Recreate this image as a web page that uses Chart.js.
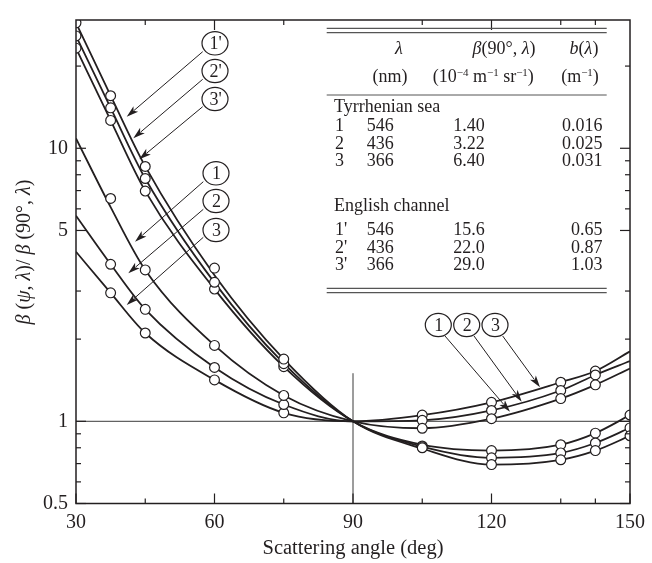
<!DOCTYPE html>
<html><head><meta charset="utf-8">
<script src="https://cdn.jsdelivr.net/npm/chart.js@4.4.0/dist/chart.umd.min.js"></script>
<style>html,body{margin:0;padding:0;background:#fff;}</style>
</head><body>
<canvas id="c" width="652" height="563"></canvas>
<script>
// ---------------- DATA ----------------
const ANGLES = [30, 37.5, 45, 60, 75, 90, 105, 120, 135, 142.5, 150];
// fitted curves
const CURVE_1P = [28.8, 15.58, 8.58, 3.43, 1.69, 1, 0.795, 0.694, 0.723, 0.781, 0.885];
const CURVE_2P = [25.8, 14.06, 7.75, 3.22, 1.63, 1, 0.808, 0.735, 0.766, 0.833, 0.946];
const CURVE_3P = [23.27, 12.65, 6.97, 3.05, 1.585, 1, 0.821, 0.781, 0.821, 0.905, 1.054];
const CURVE_1 = [10.87, 6.09, 3.585, 1.897, 1.244, 1, 0.943, 1.022, 1.211, 1.36, 1.561];
const CURVE_2 = [5.66, 3.76, 2.571, 1.575, 1.152, 1, 1.008, 1.096, 1.297, 1.478, 1.661];
const CURVE_3 = [4.18, 2.954, 2.106, 1.418, 1.074, 1, 1.054, 1.174, 1.39, 1.528, 1.804];
// measured points (null = no measurement)
const MEAS_1P = [28.8, 15.58, 8.58, 3.64, 1.69, null, 0.800, 0.694, 0.723, 0.781, 0.885];
const MEAS_2P = [25.8, 14.06, 7.75, 3.23, 1.626, null, 0.806, 0.735, 0.766, 0.833, 0.946];
const MEAS_3P = [23.27, 12.65, 6.97, 3.05, 1.585, null, 0.812, 0.781, 0.821, 0.905, 1.054];
const MEAS_1 = [null, 6.55, 3.585, 1.897, 1.244, null, 0.943, 1.022, 1.211, 1.36, null];
const MEAS_2 = [null, 3.76, 2.571, 1.575, 1.152, null, 1.008, 1.096, 1.297, 1.478, null];
const MEAS_3 = [null, 2.954, 2.106, 1.418, 1.074, null, 1.054, 1.174, 1.39, 1.528, null];
// reference lines
const REF_H_X = [30, 150], REF_H_Y = [1, 1];
const REF_V_X = [90, 90], REF_V_Y = [0.5, 1.5];
// ticks
const X_MAJOR = [30, 60, 90, 120, 150];
const X_MAJOR_TOP = [60, 120];
const X_MINOR = [45, 75, 105, 135, 142.5];
const Y_MAJOR = [0.5, 1, 5, 10];
const Y_MINOR = [0.6, 0.7, 0.8, 0.9, 2, 3, 6, 7, 8, 9, 20];
// table
const T_SERIES = ['1', '2', '3', "1'", "2'", "3'"];
const T_LAMBDA = ['546', '436', '366', '546', '436', '366'];
const T_BETA90 = ['1.40', '3.22', '6.40', '15.6', '22.0', '29.0'];
const T_B = ['0.016', '0.025', '0.031', '0.65', '0.87', '1.03'];
const T_GROUPS = ['Tyrrhenian sea', 'English channel'];

// ---------------- STYLE / LAYOUT ----------------
const SERIF = '"Liberation Serif", "DejaVu Serif", serif';
const INK = '#231f20';
const ROW_Y = [125, 143, 160.5, 229.5, 247, 264.5];
const GROUP_Y = [106.5, 205];
const CALLOUTS = [
  {t: "1'", cx: 215, cy: 43.3, from: [202.7, 51.7], to: [126.7, 116.7]},
  {t: "2'", cx: 215, cy: 71, from: [202.7, 79.3], to: [133.3, 138.3]},
  {t: "3'", cx: 215, cy: 99, from: [202.7, 106.7], to: [139.3, 159.3]},
  {t: "1", cx: 216, cy: 173.3, from: [203.3, 181.7], to: [135, 241.7]},
  {t: "2", cx: 216, cy: 201, from: [203.3, 209.3], to: [128.3, 273.3]},
  {t: "3", cx: 216, cy: 230, from: [203.3, 237.3], to: [126.7, 305]},
  {t: "1", cx: 438.3, cy: 325, from: [445, 336], to: [510, 411.7]},
  {t: "2", cx: 466.7, cy: 325, from: [474, 336], to: [521.7, 401.7]},
  {t: "3", cx: 495, cy: 325, from: [502.7, 336], to: [540, 387.3]}
];

function pts(vals) {
  return ANGLES.map((a, i) => vals[i] == null ? null : {x: a, y: vals[i]}).filter(p => p);
}
function xy(xs, ys) { return xs.map((v, i) => ({x: v, y: ys[i]})); }

const curveStyle = {type: 'line', borderColor: INK, borderWidth: 1.8, pointRadius: 0,
  cubicInterpolationMode: 'monotone', fill: false, order: 1};
const markStyle = {type: 'scatter', pointRadius: 4.9, pointBackgroundColor: '#fff',
  pointBorderColor: INK, pointBorderWidth: 1.2, showLine: false, order: 0};
const refStyle = {type: 'line', borderColor: '#3a3a3a', borderWidth: 1, pointRadius: 0, order: 2};

const datasets = [
  ...[MEAS_1P, MEAS_2P, MEAS_3P, MEAS_1, MEAS_2, MEAS_3].map(v => Object.assign({data: pts(v)}, markStyle)),
  ...[CURVE_1P, CURVE_2P, CURVE_3P, CURVE_1, CURVE_2, CURVE_3].map(v => Object.assign({data: pts(v)}, curveStyle)),
  Object.assign({data: xy(REF_H_X, REF_H_Y)}, refStyle),
  Object.assign({data: xy(REF_V_X, REF_V_Y)}, refStyle)
];

function fontFor(s, size) {
  if (s === 'i') return `italic ${size}px ${SERIF}`;
  if (s === 's') return `${Math.round(size * 0.62)}px ${SERIF}`;
  return `${size}px ${SERIF}`;
}
function richWidth(ctx, parts, size) {
  let w = 0;
  parts.forEach(([t, s]) => { ctx.font = fontFor(s, size); w += ctx.measureText(t).width; });
  return w;
}
function drawRich(ctx, parts, x, y, align, size) {
  const w = richWidth(ctx, parts, size);
  let cx = align === 'center' ? x - w / 2 : align === 'right' ? x - w : x;
  ctx.textAlign = 'left';
  ctx.textBaseline = 'alphabetic';
  const base = y + size * 0.33;
  parts.forEach(([t, s]) => {
    ctx.font = fontFor(s, size);
    ctx.fillText(t, cx, s === 's' ? base - size * 0.38 : base);
    cx += ctx.measureText(t).width;
  });
}

const deco = {
  id: 'deco',
  afterDatasetsDraw(chart) {
    const {ctx, chartArea: a, scales: {x, y}} = chart;
    ctx.save();
    ctx.strokeStyle = INK; ctx.fillStyle = INK;
    ctx.lineWidth = 1.5;
    ctx.strokeRect(a.left, a.top, a.right - a.left, a.bottom - a.top);
    ctx.lineWidth = 1.2;
    const seg = (x1, y1, x2, y2) => { ctx.beginPath(); ctx.moveTo(x1, y1); ctx.lineTo(x2, y2); ctx.stroke(); };
    const xb = (vals, len) => vals.forEach(v => { const p = x.getPixelForValue(v); seg(p, a.bottom, p, a.bottom - len); });
    const xtp = (vals, len) => vals.forEach(v => { const p = x.getPixelForValue(v); seg(p, a.top, p, a.top + len); });
    const yt = (vals, len) => vals.forEach(v => { const p = y.getPixelForValue(v); seg(a.left, p, a.left + len, p); seg(a.right, p, a.right - len, p); });
    xb(X_MAJOR, 10); xb(X_MINOR, 5); xtp(X_MAJOR_TOP, 10); xtp(X_MINOR, 5);
    yt(Y_MAJOR, 10); yt(Y_MINOR, 5);

    // y-axis title (rotated)
    ctx.save();
    ctx.translate(23, 252);
    ctx.rotate(-Math.PI / 2);
    drawRich(ctx, [['β', 'i'], [' (', 'n'], ['ψ', 'i'], [', ', 'n'], ['λ', 'i'], [')/ ', 'n'], ['β', 'i'], [' (90°, ', 'n'], ['λ', 'i'], [')', 'n']], 0, 0, 'center', 20);
    ctx.restore();

    // table
    const TS = 18;
    const L0 = 326.7, L1 = 606.7;
    ctx.strokeStyle = '#555';
    ctx.lineWidth = 1.3;
    [28.3, 32.6, 288.3, 292.6].forEach(v => seg(L0, v, L1, v));
    ctx.lineWidth = 1;
    seg(L0, 95, L1, 95);
    ctx.fillStyle = INK;
    drawRich(ctx, [['λ', 'i']], 399, 48.3, 'center', TS);
    drawRich(ctx, [['β', 'i'], ['(90°, ', 'n'], ['λ', 'i'], [')', 'n']], 504, 48.3, 'center', TS);
    drawRich(ctx, [['b', 'i'], ['(', 'n'], ['λ', 'i'], [')', 'n']], 584, 48.3, 'center', TS);
    drawRich(ctx, [['(nm)', 'n']], 390, 76.5, 'center', TS);
    drawRich(ctx, [['(10', 'n'], ['−4', 's'], [' m', 'n'], ['−1', 's'], [' sr', 'n'], ['−1', 's'], [')', 'n']], 483.3, 76.5, 'center', TS);
    drawRich(ctx, [['(m', 'n'], ['−1', 's'], [')', 'n']], 580, 76.5, 'center', TS);
    T_GROUPS.forEach((g, i) => drawRich(ctx, [[g, 'n']], 334, GROUP_Y[i], 'left', TS));
    T_SERIES.forEach((s, i) => {
      const yy = ROW_Y[i];
      drawRich(ctx, [[s, 'n']], 335, yy, 'left', TS);
      drawRich(ctx, [[T_LAMBDA[i], 'n']], 366.7, yy, 'left', TS);
      drawRich(ctx, [[T_BETA90[i], 'n']], 469, yy, 'center', TS);
      drawRich(ctx, [[T_B[i], 'n']], 602.5, yy, 'right', TS);
    });

    // callouts
    ctx.strokeStyle = INK; ctx.fillStyle = INK;
    CALLOUTS.forEach(c => {
      const [x1, y1] = c.from, [x2, y2] = c.to;
      const ang = Math.atan2(y2 - y1, x2 - x1);
      const hl = 12, hw = 3.6;
      ctx.lineWidth = 1;
      seg(x1, y1, x2 - Math.cos(ang) * hl * 0.8, y2 - Math.sin(ang) * hl * 0.8);
      ctx.beginPath();
      ctx.moveTo(x2, y2);
      ctx.lineTo(x2 - Math.cos(ang) * hl - Math.sin(ang) * hw, y2 - Math.sin(ang) * hl + Math.cos(ang) * hw);
      ctx.lineTo(x2 - Math.cos(ang) * hl * 0.75, y2 - Math.sin(ang) * hl * 0.75);
      ctx.lineTo(x2 - Math.cos(ang) * hl + Math.sin(ang) * hw, y2 - Math.sin(ang) * hl - Math.cos(ang) * hw);
      ctx.closePath(); ctx.fill();
      ctx.beginPath();
      ctx.ellipse(c.cx, c.cy, 13, 11.7, 0, 0, Math.PI * 2);
      ctx.fillStyle = '#fff'; ctx.fill();
      ctx.lineWidth = 1.2; ctx.stroke();
      ctx.fillStyle = INK;
      drawRich(ctx, [[c.t, 'n']], c.cx + 0.5, c.cy, 'center', 18);
    });
    ctx.restore();
  }
};

new Chart(document.getElementById('c'), {
  type: 'scatter',
  data: {datasets},
  options: {
    responsive: false,
    animation: false,
    devicePixelRatio: 1,
    layout: {padding: {top: 13, right: 18.6, left: 0, bottom: 0}},
    plugins: {legend: {display: false}, tooltip: {enabled: false}},
    scales: {
      x: {
        type: 'linear', min: 30, max: 150,
        afterBuildTicks: s => { s.ticks = X_MAJOR.map(v => ({value: v})); },
        afterFit: s => { s.height = 59.5; },
        grid: {display: false, drawTicks: false},
        border: {display: false},
        ticks: {font: {family: SERIF, size: 20}, color: INK, padding: 7, maxRotation: 0, autoSkip: false, callback: v => String(v)},
        title: {display: true, text: 'Scattering angle (deg)', font: {family: SERIF, size: 20.5}, color: INK, padding: {top: 0, bottom: 2}}
      },
      y: {
        type: 'logarithmic', min: 0.5, max: 29.5,
        afterBuildTicks: s => { s.ticks = Y_MAJOR.map(v => ({value: v})); },
        afterFit: s => { s.width = 76; },
        grid: {display: false, drawTicks: false},
        border: {display: false},
        ticks: {font: {family: SERIF, size: 20}, color: INK, padding: 8, autoSkip: false, callback: v => String(v)}
      }
    }
  },
  plugins: [deco]
});
</script>
</body></html>
